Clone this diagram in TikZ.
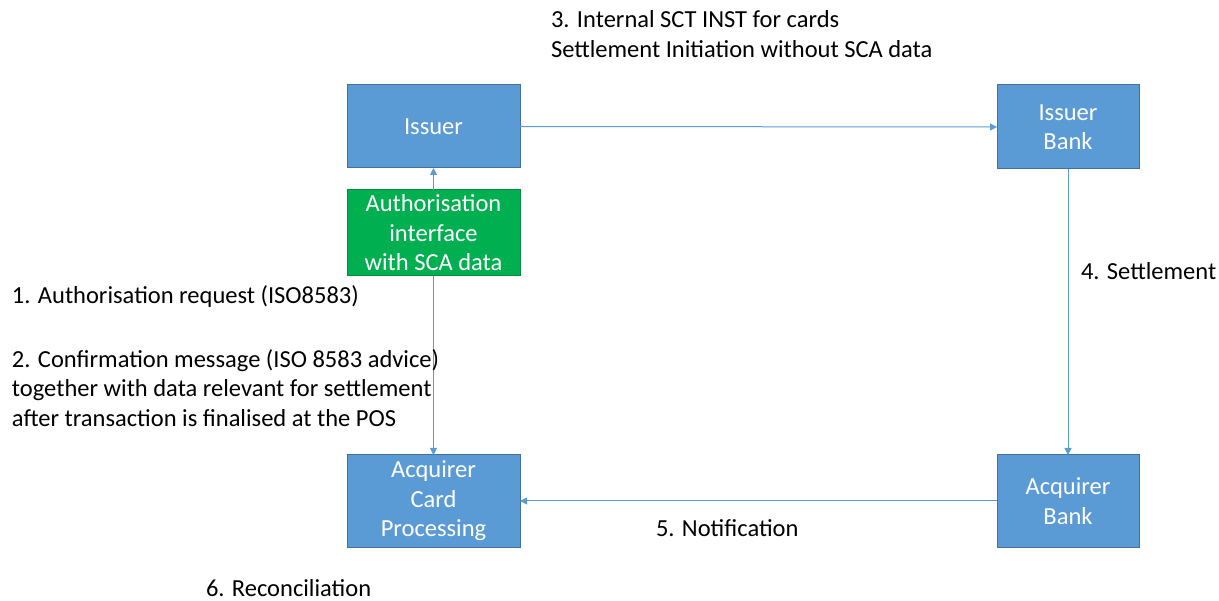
\documentclass[tikz,border=0pt]{standalone}
\usepackage{fontspec}
\setmainfont{Carlito}
\usetikzlibrary{arrows.meta,positioning}
\definecolor{boxblue}{HTML}{5B9BD5}
\definecolor{boxedge}{HTML}{41719C}
\definecolor{authgreen}{HTML}{00B050}
\definecolor{linkblue}{HTML}{5B9BD5}

\begin{document}
\begin{tikzpicture}[x=1pt,y=-1pt,outer sep=0pt,
    font=\fontsize{24.5}{29.5}\selectfont,
    party/.style={draw=boxedge,fill=boxblue,text=white,align=center,line width=1pt,inner sep=0pt},
    authbox/.style={party,fill=authgreen,draw=authgreen!80!black},
    flow/.style={draw=linkblue,line width=1pt,-{Triangle[length=7pt,width=7pt]}},
    note/.style={align=left,anchor=west,inner sep=0pt}]
  \useasboundingbox (0,0) rectangle (1219,601);
  % boxes
  \node[party,minimum width=173pt,minimum height=83pt] (issuer) at (433.5,126.5) {Issuer};
  \node[authbox,minimum width=173pt,minimum height=86pt] (auth) at (433.5,233) {Authorisation\\interface\\with SCA data};
  \node[party,minimum width=142pt,minimum height=84pt] (issbank) at (1068,127) {Issuer\\Bank};
  \node[party,minimum width=173pt,minimum height=92pt] (acp) at (433.5,501) {Acquirer\\Card\\Processing};
  \node[party,minimum width=142pt,minimum height=92pt] (acqbank) at (1068,501) {Acquirer\\Bank};
  % connectors
  \draw[flow] (auth.north) -- (issuer.south);
  \draw[flow] (auth.south) -- (acp.north);
  \draw[flow] (issuer.east) -- (issbank.west);
  \draw[flow] (issbank.south) -- (acqbank.north);
  \draw[flow] (acqbank.west) -- (acp.east);
  % labels
  \node[note] (l3) at (551,34) {3. Internal SCT INST for cards\\Settlement Initiation without SCA data};
  \node[note] (l4) at (1081,271) {4. Settlement};
  \node[note] (l1) at (12,297) {1. Authorisation request (ISO8583)};
  \node[note] (l2) at (12,388) {2. Confirmation message (ISO 8583 advice)\\together with data relevant for settlement\\after transaction is finalised at the POS};
  \node[note] (l5) at (656,528) {5. Notification};
  \node[note] (l6) at (206,588) {6. Reconciliation};
\end{tikzpicture}
\end{document}
